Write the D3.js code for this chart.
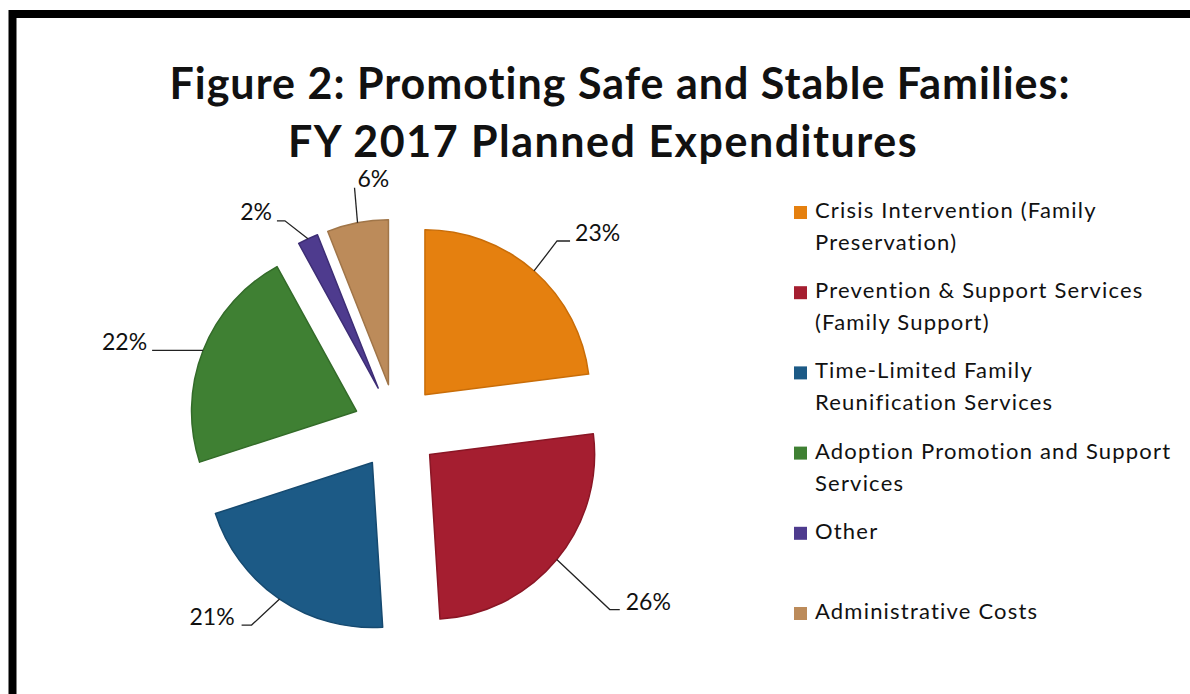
<!DOCTYPE html>
<html>
<head>
<meta charset="utf-8">
<script src="https://cdn.jsdelivr.net/npm/d3@7"></script>
<style>
  html, body { margin: 0; padding: 0; background: #fff; }
  svg { display: block; font-family: Lato, "Open Sans", sans-serif; }
</style>
</head>
<body>
<svg id="chart" width="1190" height="694"></svg>
<script>
// data
var categories = ["Crisis Intervention (Family Preservation)",
                  "Prevention & Support Services (Family Support)",
                  "Time-Limited Family Reunification Services",
                  "Adoption Promotion and Support Services",
                  "Other",
                  "Administrative Costs"];
var values = [23, 26, 21, 22, 2, 6];
var legendLines = [["Crisis Intervention (Family", "Preservation)"],
                   ["Prevention & Support Services", "(Family Support)"],
                   ["Time-Limited Family", "Reunification Services"],
                   ["Adoption Promotion and Support", "Services"],
                   ["Other"],
                   ["Administrative Costs"]];
var titleLines = ["Figure 2: Promoting Safe and Stable Families:", "FY 2017 Planned Expenditures"];

var colors = ["#e5800f", "#a51e30", "#1c5a86", "#3f8033", "#4e3b8e", "#bc8b5a"];
var edgeColors = ["#c96d08", "#8a1625", "#164a70", "#336b29", "#3d2d75", "#a07548"];

// label leader layout: elbow offset from the arc point, horizontal run, text offset
var leaders = [
  {elbow: [23, -30], run: 13, anchor: "start", text: [5, 0]},
  {elbow: [53, 50], run: 10, anchor: "start", text: [6, 0]},
  {elbow: [-28, 26], run: -10, anchor: "end", text: [-7, 0]},
  {elbow: [-51, 0], run: 0, anchor: "end", text: [-5, 0]},
  {elbow: [-23, -18], run: -8, anchor: "end", text: [-5, -1]},
  {elbow: [-3, -35], run: 0, anchor: "start", text: [3, -1]}
];

var svg = d3.select("#chart");

// frame
svg.append("rect")
  .attr("x", 12.5).attr("y", 14)
  .attr("width", 1300).attr("height", 800)
  .attr("fill", "none").attr("stroke", "#000").attr("stroke-width", 8);

// title
svg.selectAll("text.title").data(titleLines).enter().append("text")
  .attr("class", "title")
  .attr("x", function(d, i) { return i == 0 ? 620 : 603; })
  .attr("y", function(d, i) { return 99 + i * 58; })
  .attr("text-anchor", "middle")
  .attr("font-weight", "bold")
  .attr("font-size", 43)
  .attr("letter-spacing", function(d, i) { return i == 0 ? 1 : 1.5; })
  .attr("fill", "#111")
  .text(function(d) { return d; });

// pie
var cx = 396.5, cy = 427, radius = 165, explode = 43;
var pie = d3.pie().sort(null).value(function(d) { return d; });
var arc = d3.arc().innerRadius(0).outerRadius(radius);
var arcs = pie(values);

function mid(d) { return (d.startAngle + d.endAngle) / 2; }
function shift(d) {
  var a = mid(d);
  return [cx + explode * Math.sin(a), cy - explode * Math.cos(a)];
}

var pieG = svg.append("g");
pieG.selectAll("path").data(arcs).enter().append("path")
  .attr("d", arc)
  .attr("transform", function(d) { var s = shift(d); return "translate(" + s[0] + "," + s[1] + ")"; })
  .attr("fill", function(d, i) { return colors[i]; })
  .attr("stroke", function(d, i) { return edgeColors[i]; })
  .attr("stroke-width", 1.5)
  .attr("stroke-linejoin", "round");

// leader lines and labels
arcs.forEach(function(d, i) {
  var s = shift(d), a = mid(d), L = leaders[i];
  var p0 = [s[0] + radius * Math.sin(a), s[1] - radius * Math.cos(a)];
  var p1 = [p0[0] + L.elbow[0], p0[1] + L.elbow[1]];
  var p2 = [p1[0] + L.run, p1[1]];
  svg.append("path")
    .attr("d", d3.line()([p0, p1, p2]))
    .attr("fill", "none").attr("stroke", "#222").attr("stroke-width", 1.3);
  svg.append("text")
    .attr("x", p2[0] + L.text[0])
    .attr("y", p2[1] + L.text[1])
    .attr("text-anchor", L.anchor)
    .attr("font-size", 23)
    .attr("fill", "#111")
    .text(values[i] + "%");
});

// legend
var legend = svg.append("g").attr("transform", "translate(794,0)");
var rows = legend.selectAll("g").data(categories).enter().append("g")
  .attr("transform", function(d, i) { return "translate(0," + (218 + i * 80.2) + ")"; });
rows.append("rect")
  .attr("x", 0).attr("y", -12).attr("width", 13).attr("height", 13)
  .attr("fill", function(d, i) { return colors[i]; });
rows.append("text")
  .attr("x", 21)
  .attr("font-size", 22)
  .attr("letter-spacing", 1.2)
  .attr("fill", "#111")
  .selectAll("tspan").data(function(d, i) { return legendLines[i]; }).enter().append("tspan")
  .attr("x", 21)
  .attr("dy", function(d, j) { return j == 0 ? 0 : 32; })
  .text(function(d) { return d; });
</script>
</body>
</html>
